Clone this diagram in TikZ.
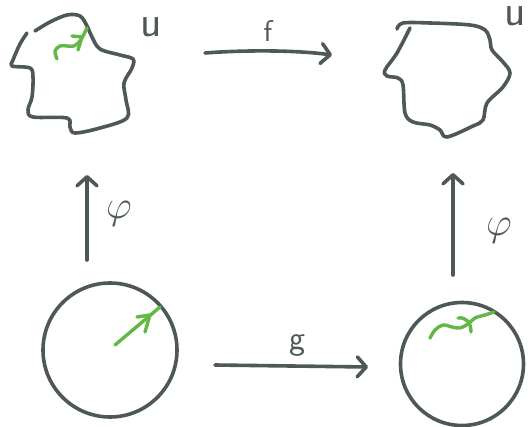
\documentclass[tikz,border=0pt]{standalone}
\usepackage{fix-cm}
\usetikzlibrary{arrows.meta}
\definecolor{ink}{RGB}{78,88,86}
\definecolor{leaf}{RGB}{98,184,68}
\tikzset{
  inkline/.style={draw=ink, line width=3.6pt, line cap=round, line join=round},
  leafline/.style={draw=leaf, line width=3.4pt, line cap=round, line join=round},
  maparrow/.style={inkline, -{Straight Barb[length=9pt,width=20pt,round]}},
  lbl/.style={text=ink, inner sep=0pt}
}
\begin{document}
\begin{tikzpicture}[x=1pt,y=-1pt]
\useasboundingbox (0,0) rectangle (529,427);
\clip (0,0) rectangle (529,427);
% top-left set
\draw[inkline] plot[smooth, tension=0.55] coordinates {(35,31) (50,22) (67,15) (80,16) (87,26) (92,37) (100,49) (120,55) (133,59) (132,68) (124,83) (126,100) (127,118) (100,128) (75,133) (70,127) (67,118) (33,117) (28,110) (32,97) (33,77) (30,68) (12,66) (13,60) (20,44) (27,33)};
\draw[leafline] plot[smooth, tension=0.6] coordinates {(57,59) (55,51) (60,46) (67,46) (74,46) (80,41) (84,34) (87,28)};
\draw[leafline] (72,36) -- (82,37) -- (78,50);
\node[lbl, font=\fontsize{44}{44}\selectfont\sffamily] (U1) at (151,27) {u};
% top-right set
\draw[inkline] plot[smooth, tension=0.55] coordinates {(397,29) (403,23) (430,23) (470,25) (485,30) (490,40) (492,50) (503,62) (510,73) (503,87) (487,103) (483,120) (473,126) (447,137) (440,130) (430,125) (413,122) (405,113) (403,85) (398,78) (387,76) (385,70) (397,53) (410,28)};
\node[lbl, font=\fontsize{44}{44}\selectfont\sffamily] (U2) at (515,16) {u};
% bottom-left disc
\node[circle, inkline, minimum size=134pt, inner sep=0pt] (D1) at (110,350) {};
\coordinate (r0) at (115,345);
\coordinate (r1) at (160,307);
\draw[leafline] (r0) -- (r1);
\draw[leafline] (137,317) -- (150,315) -- (145,332);
% bottom-right disc
\node[circle, inkline, minimum size=123pt, inner sep=0pt] (D2) at (462,364) {};
\draw[leafline] plot[smooth, tension=0.6] coordinates {(430,338) (435,330) (443,325) (452,327) (460,328) (468,324) (475,318) (485,315) (494,312)};
\draw[leafline] (458,318) .. controls (466,317) and (471,322) .. (471,332);
% arrows
\coordinate (fs) at (205,53);
\coordinate (fe) at (332,55);
\draw[maparrow] (fs) .. controls (245,50) and (295,50) .. (fe);
\node[lbl, font=\fontsize{30}{30}\selectfont\sffamily] (f) at (268,31) {f};
\coordinate (gs) at (215,365);
\coordinate (ge) at (368,367);
\draw[maparrow] (gs) -- (ge);
\node[lbl, font=\fontsize{34}{34}\selectfont\sffamily] (g) at (297,346) {g};
\coordinate (pls) at (87,260);
\coordinate (ple) at (87,175);
\draw[maparrow] (pls) -- (ple);
\node[lbl, font=\fontsize{40}{40}\selectfont] (phi1) at (119,214) {$\varphi$};
\coordinate (prs) at (453,275);
\coordinate (pre) at (453,173);
\draw[maparrow] (prs) -- (pre);
\node[lbl, font=\fontsize{40}{40}\selectfont] (phi2) at (499,231) {$\varphi$};
\end{tikzpicture}
\end{document}
